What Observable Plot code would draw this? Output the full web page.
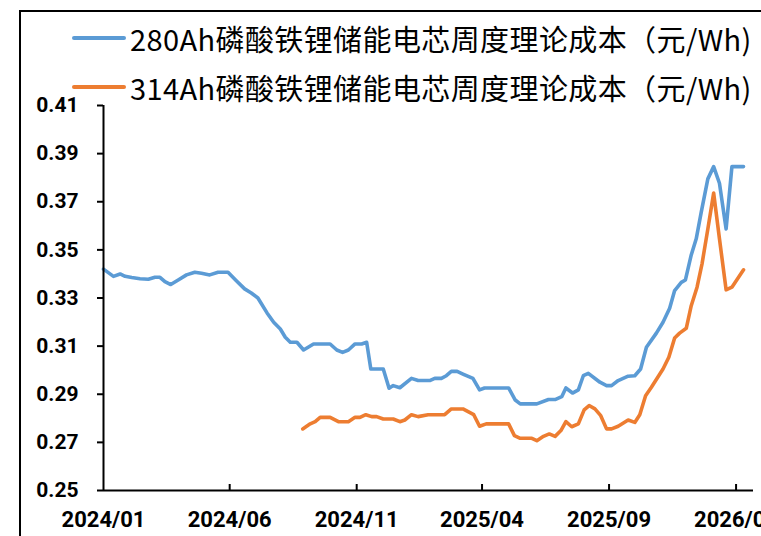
<!DOCTYPE html>
<html>
<head>
<meta charset="utf-8">
<script src="https://cdn.jsdelivr.net/npm/d3@7"></script>
<script src="https://cdn.jsdelivr.net/npm/@observablehq/plot@0.6"></script>
<style>
  html, body { margin: 0; padding: 0; background: #fff; }
  #wrap { position: relative; width: 761px; height: 536px; overflow: hidden; background: #fff; }
  #frame { position: absolute; left: 19px; top: 10px; width: 800px; height: 600px; border: 2px solid #000; box-sizing: border-box; }
  #chart { position: absolute; left: 0; top: 0; }
  #legend { position: absolute; left: 72px; top: 13px; font-family: "Noto Sans CJK SC", sans-serif; font-size: 29px; letter-spacing: 0.4px; color: #000; }
  .row { display: flex; align-items: center; height: 49.6px; white-space: nowrap; }
  .sw { width: 54px; height: 4px; border-radius: 2px; margin-right: 4px; }
</style>
</head>
<body>
<div id="wrap">
  <div id="frame"></div>
  <div id="chart"></div>
  <div id="legend"></div>
</div>
<script>
// ---- data ----
const seriesNames = [
  "280Ah磷酸铁锂储能电芯周度理论成本（元/Wh)",
  "314Ah磷酸铁锂储能电芯周度理论成本（元/Wh)"
];
const seriesColors = ["#5B9BD5", "#ED7D31"];

const blueDates = [
  "2024-01-01","2024-01-13","2024-01-21","2024-01-27","2024-02-04","2024-02-14","2024-02-24",
  "2024-03-03","2024-03-09","2024-03-15","2024-03-22","2024-03-31","2024-04-10","2024-04-20",
  "2024-04-28","2024-05-08","2024-05-18","2024-05-30","2024-06-09","2024-06-19","2024-06-27",
  "2024-07-05","2024-07-16","2024-07-24","2024-08-01","2024-08-07","2024-08-13","2024-08-21",
  "2024-08-29","2024-09-10","2024-09-30","2024-10-08","2024-10-15","2024-10-22","2024-10-30",
  "2024-11-07","2024-11-13","2024-11-18","2024-12-03","2024-12-10","2024-12-15","2024-12-23",
  "2025-01-06","2025-01-14","2025-01-28","2025-02-03","2025-02-11","2025-02-17","2025-02-23",
  "2025-03-02","2025-03-09","2025-03-21","2025-03-29","2025-04-04","2025-05-03","2025-05-11",
  "2025-05-17","2025-06-06","2025-06-20","2025-06-28","2025-07-06","2025-07-11","2025-07-19",
  "2025-07-26","2025-08-01","2025-08-07","2025-08-21","2025-08-29","2025-09-04","2025-09-12",
  "2025-09-24","2025-10-02","2025-10-09","2025-10-16","2025-10-28","2025-11-05","2025-11-13",
  "2025-11-19","2025-11-27","2025-12-02","2025-12-09","2025-12-15","2025-12-21","2025-12-29",
  "2026-01-05","2026-01-12","2026-01-20","2026-01-27","2026-02-10"
];
const blueValues = [
  0.342,0.339,0.340,0.339,0.3385,0.338,0.3378,
  0.3386,0.3386,0.3368,0.3356,0.3375,0.3396,0.3407,
  0.3403,0.3396,0.3407,0.3407,0.3372,0.3338,0.3321,
  0.330,0.3238,0.3199,0.3171,0.3137,0.3116,0.3116,
  0.3084,0.3109,0.3109,0.3084,0.3074,0.3084,0.3109,
  0.3109,0.3116,0.3005,0.3005,0.2925,0.2936,0.2927,
  0.2966,0.2957,0.2957,0.2966,0.2966,0.2977,0.2995,
  0.2995,0.2984,0.2966,0.2918,0.2926,0.2926,0.2876,
  0.286,0.286,0.2878,0.2878,0.289,0.2926,0.2905,
  0.2918,0.2977,0.2987,0.2950,0.2936,0.2936,0.2957,
  0.2975,0.2977,0.3005,0.3095,0.3154,0.3199,0.3257,
  0.3331,0.3365,0.3375,0.3479,0.3546,0.3656,0.3795,
  0.3846,0.3777,0.3587,0.3846,0.3846
];

const orangeDates = [
  "2024-08-28","2024-09-06","2024-09-12","2024-09-18","2024-09-30","2024-10-10","2024-10-22",
  "2024-10-30","2024-11-05","2024-11-12","2024-11-19","2024-11-25","2024-12-03","2024-12-15",
  "2024-12-23","2024-12-29","2025-01-06","2025-01-14","2025-01-26","2025-02-15","2025-02-23",
  "2025-03-09","2025-03-22","2025-03-29","2025-04-06","2025-05-03","2025-05-10","2025-05-17",
  "2025-05-31","2025-06-06","2025-06-14","2025-06-21","2025-06-28","2025-07-05","2025-07-11",
  "2025-07-18","2025-07-26","2025-08-02","2025-08-08","2025-08-15","2025-08-22","2025-08-29",
  "2025-09-04","2025-09-12","2025-09-24","2025-10-02","2025-10-08","2025-10-15","2025-10-22",
  "2025-11-05","2025-11-12","2025-11-19","2025-11-25","2025-12-03","2025-12-09","2025-12-16",
  "2025-12-22","2025-12-29","2026-01-05","2026-01-12","2026-01-20","2026-01-27","2026-02-10"
];
const orangeValues = [
  0.2756,0.2777,0.2786,0.2804,0.2804,0.2786,0.2786,
  0.2804,0.2804,0.2815,0.2807,0.2807,0.2797,0.2797,
  0.2786,0.2793,0.2815,0.2807,0.2815,0.2815,0.2839,
  0.2839,0.2815,0.2767,0.2777,0.2777,0.2728,0.2717,
  0.2717,0.2707,0.2725,0.2735,0.2725,0.2749,0.2786,
  0.2765,0.2777,0.2835,0.2853,0.2839,0.2811,0.2756,
  0.2756,0.2767,0.2793,0.2783,0.2815,0.2894,0.2929,
  0.3005,0.3054,0.3134,0.3154,0.3174,0.3268,0.3345,
  0.3442,0.3587,0.3736,0.3546,0.3334,0.3345,0.3417
];

const yTicks = [0.25, 0.27, 0.29, 0.31, 0.33, 0.35, 0.37, 0.39, 0.41];
const xTickDates = ["2024-01-01","2024-06-01","2024-11-01","2025-04-01","2025-09-01","2026-02-01"];
const xDomain = ["2024-01-01", "2026-02-22"];
const yDomain = [0.25, 0.41];

// ---- build ----
const parse = d3.utcParse("%Y-%m-%d");
const rows = [];
blueDates.forEach((d, i) => rows.push({date: parse(d), value: blueValues[i], series: seriesNames[0]}));
orangeDates.forEach((d, i) => rows.push({date: parse(d), value: orangeValues[i], series: seriesNames[1]}));
const xt = xTickDates.map(parse);

const W = 761, H = 536, mT = 105, mB = 46, mL = 103, mR = 8;
const tickLenPx = 6;
const tickLenData = tickLenPx * (yDomain[1] - yDomain[0]) / (H - mT - mB);
const tickFont = '"Liberation Sans Narrow", "Roboto", sans-serif';

const chart = Plot.plot({
  width: W, height: H,
  marginTop: mT, marginBottom: mB, marginLeft: mL, marginRight: mR,
  style: {background: "transparent", fontFamily: tickFont},
  x: {type: "utc", domain: xDomain.map(parse)},
  y: {domain: yDomain},
  color: {domain: seriesNames, range: seriesColors},
  marks: [
    Plot.line(rows, {x: "date", y: "value", z: "series", stroke: "series",
      strokeWidth: 3.6, strokeLinejoin: "round", strokeLinecap: "round"}),
    Plot.ruleY([yDomain[0]], {stroke: "#000", strokeWidth: 2}),
    Plot.ruleX([parse(xDomain[0])], {y1: yDomain[0], y2: yDomain[1], stroke: "#000", strokeWidth: 2}),
    Plot.ruleX(xt.slice(1), {y1: yDomain[0], y2: yDomain[0] + tickLenData, stroke: "#000", strokeWidth: 2}),
    Plot.axisY({ticks: yTicks, tickSize: 6, tickPadding: 19, tickFormat: d3.format(".2f"),
      fontSize: 21, fontWeight: "bold", strokeWidth: 2, label: null, stroke: "#000", fill: "#000"}),
    Plot.axisX({ticks: xt, tickSize: 0, tickPadding: 21, tickFormat: d3.utcFormat("%Y/%m"),
      fontSize: 22, fontWeight: "bold", label: null, fill: "#000"})
  ]
});
document.getElementById("chart").appendChild(chart);

const legend = document.getElementById("legend");
seriesNames.forEach((name, i) => {
  const row = document.createElement("div");
  row.className = "row";
  const sw = document.createElement("div");
  sw.className = "sw";
  sw.style.background = seriesColors[i];
  const tx = document.createElement("span");
  tx.textContent = name;
  row.appendChild(sw);
  row.appendChild(tx);
  legend.appendChild(row);
});
</script>
</body>
</html>
